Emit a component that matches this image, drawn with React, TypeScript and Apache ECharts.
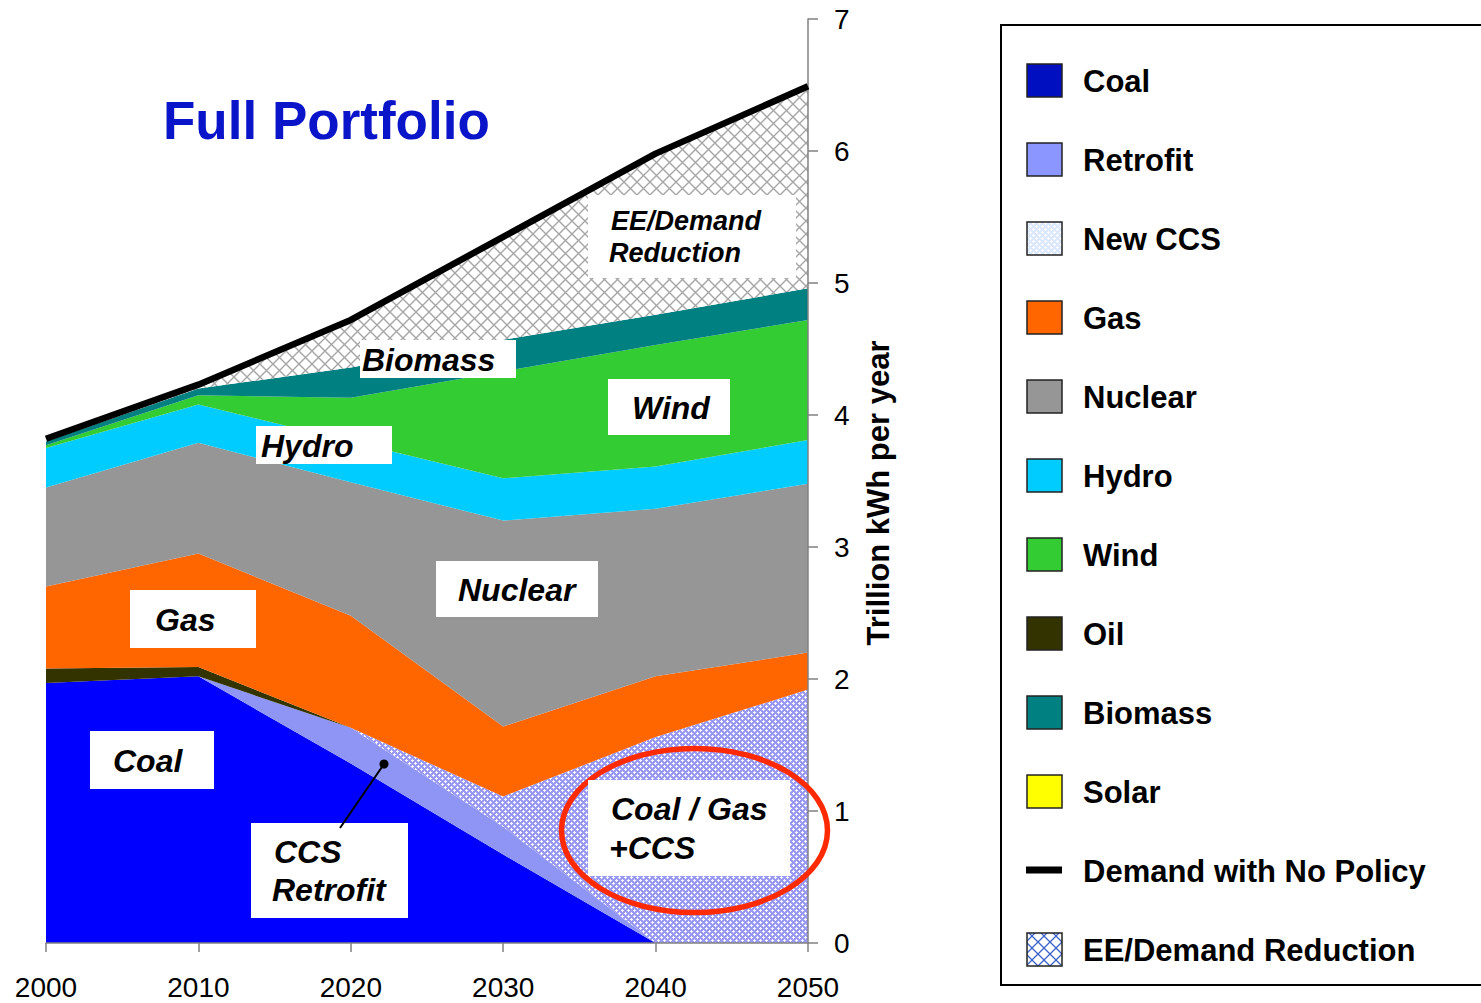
import React, { useEffect, useRef } from "react";
import * as echarts from "echarts";

const years = ["2000", "2010", "2020", "2030", "2040", "2050"];
const coal = [1.97, 2.02, 1.36, 0.67, 0, 0];
const retrofit = [0, 0, 0.27, 0.21, 0, 0];
const newCCS = [0, 0, 0, 0.23, 1.56, 1.92];
const oil = [0.11, 0.07, 0, 0, 0, 0];
const gas = [0.62, 0.86, 0.85, 0.53, 0.46, 0.28];
const nuclear = [0.75, 0.84, 1.01, 1.56, 1.27, 1.28];
const hydro = [0.3, 0.29, 0.31, 0.32, 0.32, 0.33];
const wind = [0.02, 0.07, 0.33, 0.81, 0.92, 0.91];
const biomass = [0.03, 0.05, 0.23, 0.24, 0.23, 0.24];
const solar = [0, 0, 0, 0, 0, 0];
const eeReduction = [0.02, 0.03, 0.36, 0.78, 1.22, 1.53];
const demandNoPolicy = [3.82, 4.23, 4.72, 5.35, 5.98, 6.49];
const yTicks = [0, 1, 2, 3, 4, 5, 6, 7];

const legendNames = [
  "Coal",
  "Retrofit",
  "New CCS",
  "Gas",
  "Nuclear",
  "Hydro",
  "Wind",
  "Oil",
  "Biomass",
  "Solar",
  "Demand with No Policy",
  "EE/Demand Reduction",
];

const FONT = '"Liberation Sans", Arial, sans-serif';

function makeCanvas(w: number, h: number, draw: (c: CanvasRenderingContext2D) => void) {
  const cv = document.createElement("canvas");
  cv.width = w;
  cv.height = h;
  const ctx = cv.getContext("2d")!;
  draw(ctx);
  return cv;
}

export default function App() {
  const ref = useRef<HTMLDivElement>(null);
  useEffect(() => {
    if (!ref.current) return;
    const chart = echarts.init(ref.current, undefined, { renderer: "svg" });

    const ccsCanvas = makeCanvas(6, 6, (c) => {
      c.fillStyle = "#9a9af4";
      c.fillRect(0, 0, 6, 6);
      c.fillStyle = "rgba(255,255,255,0.9)";
      const plus = (x: number, y: number) => {
        c.fillRect(x, y - 1, 1, 3);
        c.fillRect(x - 1, y, 3, 1);
      };
      plus(1, 1);
      plus(4, 4);
    });
    const eeCanvas = makeCanvas(13, 13, (c) => {
      c.fillStyle = "#ffffff";
      c.fillRect(0, 0, 13, 13);
      c.strokeStyle = "#a6a6a6";
      c.lineWidth = 1.4;
      c.beginPath();
      c.moveTo(-1, -1);
      c.lineTo(14, 14);
      c.moveTo(14, -1);
      c.lineTo(-1, 14);
      c.stroke();
    });
    const ccsLegendCanvas = makeCanvas(6, 6, (c) => {
      c.fillStyle = "#dbe8ff";
      c.fillRect(0, 0, 6, 6);
      c.fillStyle = "#ffffff";
      c.fillRect(1, 0, 1, 3);
      c.fillRect(0, 1, 3, 1);
      c.fillRect(4, 3, 1, 3);
      c.fillRect(3, 4, 3, 1);
    });
    const eeLegendCanvas = makeCanvas(12, 12, (c) => {
      c.fillStyle = "#ffffff";
      c.fillRect(0, 0, 12, 12);
      c.strokeStyle = "#3a62c8";
      c.lineWidth = 1.3;
      c.beginPath();
      c.moveTo(-1, -1);
      c.lineTo(13, 13);
      c.moveTo(13, -1);
      c.lineTo(-1, 13);
      c.stroke();
    });
    const ccsPattern: any = { image: ccsCanvas, repeat: "repeat" };
    const eePattern: any = { image: eeCanvas, repeat: "repeat" };

    const area = (name: string, data: number[], color: any) => ({
      name,
      type: "line",
      stack: "total",
      data,
      symbol: "none",
      showSymbol: false,
      lineStyle: { width: 0 },
      areaStyle: { color, opacity: 1 },
      itemStyle: { color },
      z: 2,
    });

    const legendFills: Record<string, any> = {
      Coal: "#0010c0",
      Retrofit: "#8c96ff",
      "New CCS": { image: ccsLegendCanvas, repeat: "repeat" },
      Gas: "#ff6600",
      Nuclear: "#969696",
      Hydro: "#00ccff",
      Wind: "#33cc33",
      Oil: "#333300",
      Biomass: "#008080",
      Solar: "#ffff00",
      "EE/Demand Reduction": { image: eeLegendCanvas, repeat: "repeat" },
    };

    const graphics: any[] = [];
    // Legend box
    graphics.push({
      type: "rect",
      shape: { x: 1001, y: 25, width: 560, height: 960 },
      style: { fill: "#ffffff", stroke: "#000", lineWidth: 2 },
      z: 100,
    });
    legendNames.forEach((n, i) => {
      const cy = 80 + i * 79.0;
      if (n === "Demand with No Policy") {
        graphics.push({
          type: "rect",
          shape: { x: 1026, y: cy - 3.5, width: 36, height: 7 },
          style: { fill: "#000" },
          z: 101,
        });
      } else {
        graphics.push({
          type: "rect",
          shape: { x: 1027, y: cy - 16, width: 35, height: 33 },
          style: { fill: legendFills[n], stroke: "#222", lineWidth: 1.5 },
          z: 101,
        });
      }
      graphics.push({
        type: "text",
        x: 1083,
        y: cy + 1,
        style: {
          text: n,
          font: `bold 31px ${FONT}`,
          fill: "#000",
          textAlign: "left",
          textVerticalAlign: "middle",
          align: "left",
          verticalAlign: "middle",
        },
        z: 101,
      });
    });

    // Title
    graphics.push({
      type: "text",
      x: 163,
      y: 120,
      style: {
        text: "Full Portfolio",
        font: `bold 53px ${FONT}`,
        fill: "#0a14c8",
        textAlign: "left",
        textVerticalAlign: "middle",
        align: "left",
        verticalAlign: "middle",
      },
      z: 101,
    });

    const box = (
      x1: number,
      y1: number,
      x2: number,
      y2: number,
      lines: { t: string; x: number; y: number }[],
      size: number
    ) => {
      graphics.push({
        type: "rect",
        shape: { x: x1, y: y1, width: x2 - x1, height: y2 - y1 },
        style: { fill: "#ffffff" },
        z: 110,
      });
      lines.forEach((l) =>
        graphics.push({
          type: "text",
          x: l.x,
          y: l.y,
          style: {
            text: l.t,
            font: `italic bold ${size}px ${FONT}`,
            fill: "#000",
            textAlign: "left",
            textVerticalAlign: "middle",
            align: "left",
            verticalAlign: "middle",
          },
          z: 111,
        })
      );
    };

    // Red ellipse
    graphics.push({
      type: "ellipse",
      shape: { cx: 694.5, cy: 830.5, rx: 133, ry: 82 },
      style: { fill: "none", stroke: "#ff2a00", lineWidth: 5.5 },
      z: 105,
    });

    box(588, 195, 796, 278, [
      { t: "EE/Demand", x: 611, y: 221 },
      { t: "Reduction", x: 609, y: 253 },
    ], 27);
    box(360, 340, 516, 378, [{ t: "Biomass", x: 362, y: 360 }], 32);
    box(608, 379, 730, 435, [{ t: "Wind", x: 632, y: 408 }], 32);
    box(256, 426, 392, 464, [{ t: "Hydro", x: 261, y: 446 }], 32);
    box(436, 561, 598, 617, [{ t: "Nuclear", x: 458, y: 590 }], 32);
    box(130, 590, 256, 648, [{ t: "Gas", x: 155, y: 620 }], 32);
    box(90, 731, 214, 789, [{ t: "Coal", x: 113, y: 761 }], 32);
    box(251, 823, 408, 918, [
      { t: "CCS", x: 274, y: 852 },
      { t: "Retrofit", x: 272, y: 890 },
    ], 32);
    box(588, 780, 790, 876, [
      { t: "Coal / Gas", x: 611, y: 809 },
      { t: "+CCS", x: 609, y: 848 },
    ], 32);

    // pointer
    graphics.push({
      type: "line",
      shape: { x1: 340, y1: 828, x2: 384, y2: 764 },
      style: { stroke: "#000", lineWidth: 2 },
      z: 112,
    });
    graphics.push({
      type: "circle",
      shape: { cx: 384, cy: 764, r: 4.5 },
      style: { fill: "#000" },
      z: 112,
    });

    chart.setOption({
      animation: false,
      backgroundColor: "#ffffff",
      legend: { show: false, data: legendNames },
      grid: { left: 46, right: 673, top: 19, bottom: 60, containLabel: false },
      xAxis: {
        type: "category",
        boundaryGap: false,
        data: years,
        axisLine: { show: true, lineStyle: { color: "#808080", width: 1.5 } },
        axisTick: { show: true, length: 9, lineStyle: { color: "#808080", width: 1.5 } },
        axisLabel: { color: "#000", fontSize: 28, fontFamily: FONT, margin: 30 },
        splitLine: { show: false },
        z: 3,
      },
      yAxis: {
        type: "value",
        position: "right",
        min: 0,
        max: 7,
        interval: 1,
        axisLine: { show: true, lineStyle: { color: "#808080", width: 1.5 } },
        axisTick: { show: true, length: 10, lineStyle: { color: "#808080", width: 1.5 } },
        axisLabel: {
          color: "#000",
          fontSize: 28,
          fontFamily: FONT,
          margin: 26,
          formatter: (v: number) => (yTicks.includes(v) ? String(v) : ""),
        },
        splitLine: { show: false },
        name: "Trillion kWh per year",
        nameLocation: "middle",
        nameRotate: 90,
        nameGap: 55,
        nameTextStyle: { color: "#000", fontSize: 31, fontWeight: "bold", fontFamily: FONT, padding: [0, 24, 0, 0] },
        z: 3,
      },
      series: [
        area("Coal", coal, "#0000ff"),
        area("Retrofit", retrofit, "#8f95f5"),
        area("New CCS", newCCS, ccsPattern),
        area("Oil", oil, "#333300"),
        area("Gas", gas, "#ff6600"),
        area("Nuclear", nuclear, "#969696"),
        area("Hydro", hydro, "#00ccff"),
        area("Wind", wind, "#33cc33"),
        area("Solar", solar, "#ffff00"),
        area("Biomass", biomass, "#008080"),
        area("EE/Demand Reduction", eeReduction, eePattern),
        {
          name: "Demand with No Policy",
          type: "line",
          data: demandNoPolicy,
          symbol: "none",
          showSymbol: false,
          lineStyle: { color: "#000", width: 6.5 },
          itemStyle: { color: "#000" },
          z: 5,
        },
      ],
      graphic: { elements: graphics },
    } as any);

    return () => chart.dispose();
  }, []);

  return (
    <div
      ref={ref}
      style={{ position: "fixed", left: 0, top: 0, width: 1481, height: 1003, background: "#fff" }}
    />
  );
}
